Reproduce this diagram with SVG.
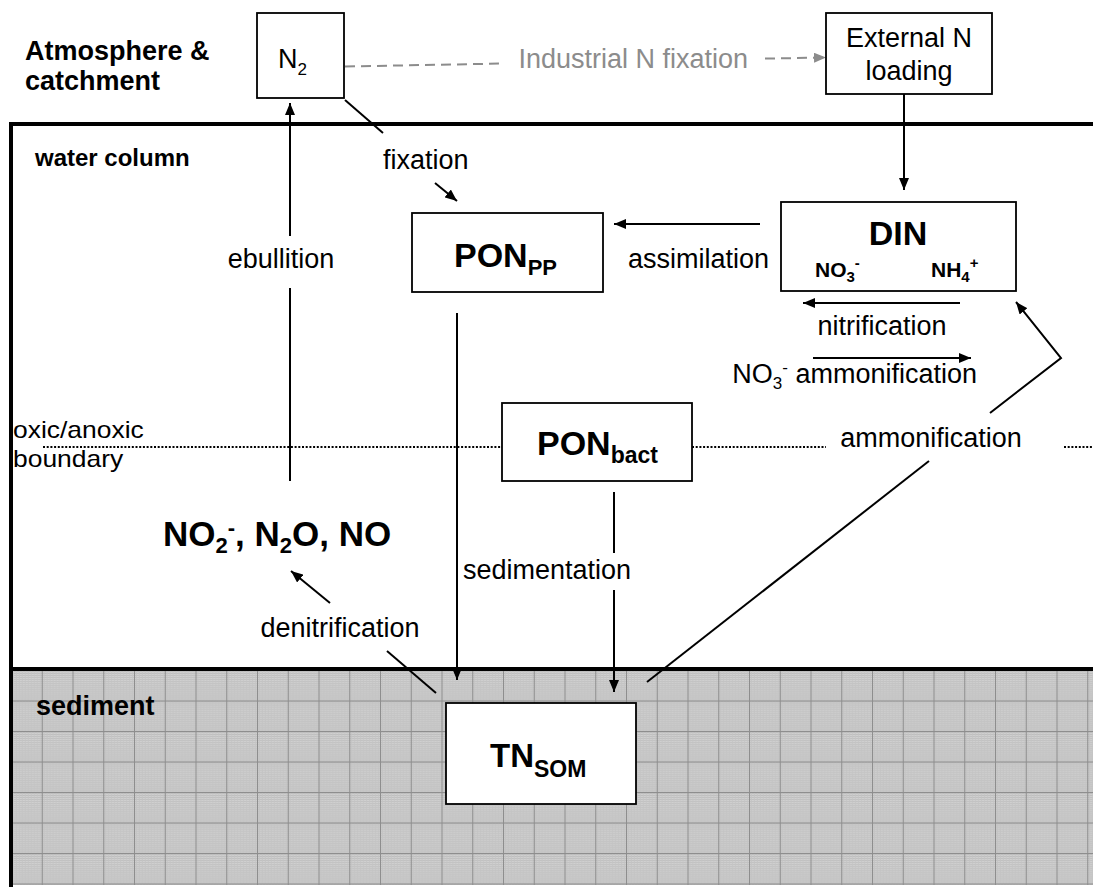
<svg xmlns="http://www.w3.org/2000/svg" width="1093" height="887" viewBox="0 0 1093 887">
<style>
text{font-family:"Liberation Sans",Arial,sans-serif;fill:#000}
.lbl{font-size:27px}
.hd{font-size:27px;font-weight:bold}
.big{font-weight:bold}
.box{fill:#fff;stroke:#000;stroke-width:1.8}
.ln{stroke:#000;stroke-width:2;fill:none}
.gr{stroke:#8c8c8c;stroke-width:2;stroke-dasharray:10 6;fill:none}
.dot{stroke:#000;stroke-width:2;stroke-dasharray:2 1.7;fill:none}
.frame{stroke:#000;stroke-width:4;fill:none}
</style>
<defs>
<marker id="ah" viewBox="0 0 12 10" refX="12" refY="5" markerWidth="12" markerHeight="10" markerUnits="userSpaceOnUse" orient="auto"><path d="M0,0 L12,5 L0,10 z" fill="#000"/></marker>
<marker id="ahg" viewBox="0 0 12 10" refX="12" refY="5" markerWidth="12" markerHeight="10" markerUnits="userSpaceOnUse" orient="auto"><path d="M0,0 L12,5 L0,10 z" fill="#8c8c8c"/></marker>
<pattern id="fine" width="3" height="2" patternUnits="userSpaceOnUse">
<rect width="3" height="2" fill="#d4d4d4"/>
<rect y="1" width="3" height="1" fill="#b9b9b9"/>
<rect x="2" width="1" height="2" fill="#c4c4c4"/>
</pattern>
<pattern id="grid" x="11" y="670" width="30.75" height="30.5" patternUnits="userSpaceOnUse">
<rect width="30.75" height="30.5" fill="url(#fine)"/>
<rect width="1" height="30.5" fill="#8e8e8e"/>
<rect width="30.75" height="1" fill="#8e8e8e"/>
</pattern>
</defs>
<rect width="1093" height="887" fill="#fff"/>
<g id="sediment-layer">
<rect x="11" y="669" width="1082" height="216" fill="url(#grid)"/>
</g>
<g id="frame">
<line class="frame" x1="10" y1="124" x2="1093" y2="124"/>
<line class="frame" x1="11" y1="122" x2="11" y2="887"/>
<line class="frame" x1="11" y1="669" x2="1093" y2="669"/>
<line class="dot" x1="43" y1="447" x2="502" y2="447"/>
<line class="dot" x1="692" y1="447" x2="826" y2="447"/>
<line class="dot" x1="1064" y1="447" x2="1093" y2="447"/>
</g>
<g id="region-labels">
<text class="hd" x="25" y="60">Atmosphere &amp;</text>
<text class="hd" x="25" y="90">catchment</text>
<text class="big" x="35" y="166" font-size="24">water column</text>
<text transform="translate(13,438) scale(1.15,1)" font-size="23">oxic/anoxic</text>
<text transform="translate(13,467) scale(1.15,1)" font-size="23">boundary</text>
<text class="hd" x="36" y="715">sediment</text>
</g>
<g id="connectors">
<line class="ln" x1="904" y1="94" x2="904" y2="190" marker-end="url(#ah)"/>
<line class="gr" x1="345" y1="66.5" x2="505" y2="63.5"/>
<line class="gr" x1="765" y1="58.6" x2="826" y2="57.5" marker-end="url(#ahg)"/>
<line class="ln" x1="345" y1="100" x2="383" y2="133"/>
<line class="ln" x1="435" y1="183" x2="457" y2="201" marker-end="url(#ah)"/>
<line class="ln" x1="760" y1="224" x2="614" y2="224" marker-end="url(#ah)"/>
<line class="ln" x1="960" y1="303" x2="803" y2="303" marker-end="url(#ah)"/>
<line class="ln" x1="813" y1="358" x2="971" y2="358" marker-end="url(#ah)"/>
<line class="ln" x1="647" y1="682" x2="929" y2="461"/>
<polyline class="ln" points="990,413 1061,358 1016,302" marker-end="url(#ah)"/>
<line class="ln" x1="457" y1="313" x2="457" y2="680" marker-end="url(#ah)"/>
<line class="ln" x1="614" y1="492" x2="614" y2="553"/>
<line class="ln" x1="614" y1="590" x2="614" y2="692" marker-end="url(#ah)"/>
<line class="ln" x1="436" y1="693" x2="387" y2="651"/>
<line class="ln" x1="330" y1="603" x2="291" y2="571" marker-end="url(#ah)"/>
<line class="ln" x1="290" y1="481" x2="290" y2="288"/>
<line class="ln" x1="290" y1="236" x2="290" y2="103" marker-end="url(#ah)"/>
<text x="748" y="68" font-size="27" text-anchor="end" style="fill:#8c8c8c">Industrial N fixation</text>
<text class="lbl" x="383" y="169">fixation</text>
<text class="lbl" x="628" y="268">assimilation</text>
<text class="lbl" x="882" y="335" text-anchor="middle">nitrification</text>
<text class="lbl" x="977" y="383" text-anchor="end">NO<tspan font-size="17" dy="6">3</tspan><tspan font-size="17" dy="-16">-</tspan><tspan dy="10"> ammonification</tspan></text>
<text class="lbl" x="931" y="447" text-anchor="middle">ammonification</text>
<text class="lbl" x="547" y="579" text-anchor="middle">sedimentation</text>
<text class="lbl" x="340" y="637" text-anchor="middle">denitrification</text>
<text class="lbl" x="281" y="268" text-anchor="middle">ebullition</text>
</g>
<g id="node-N2">
<rect class="box" x="257" y="13" width="87" height="85"/>
<text x="278" y="68" font-size="27">N<tspan font-size="17" dy="7">2</tspan></text>
</g>
<g id="node-external">
<rect class="box" x="826" y="13" width="166" height="81"/>
<text class="lbl" x="909" y="47" text-anchor="middle">External N</text>
<text class="lbl" x="909" y="80" text-anchor="middle">loading</text>
</g>
<g id="node-DIN">
<rect class="box" x="781" y="202" width="235" height="89"/>
<text class="big" x="898" y="245" font-size="34" text-anchor="middle">DIN</text>
<text class="big" x="815" y="277" font-size="21">NO<tspan font-size="15" dy="5">3</tspan><tspan font-size="15" dy="-14">-</tspan></text>
<text class="big" x="931" y="277" font-size="21">NH<tspan font-size="15" dy="5">4</tspan><tspan font-size="15" dy="-14">+</tspan></text>
</g>
<g id="node-PONpp">
<rect class="box" x="412" y="213" width="191" height="79"/>
<text class="big" x="454" y="267" font-size="34">PON<tspan font-size="22" dy="8">PP</tspan></text>
</g>
<g id="node-PONbact">
<rect class="box" x="502" y="403" width="190" height="78"/>
<text class="big" x="537" y="455" font-size="34">PON<tspan font-size="23" dy="8">bact</tspan></text>
</g>
<g id="node-NOx">
<text class="big" x="163" y="546" font-size="35">NO<tspan font-size="22" dy="7">2</tspan><tspan font-size="22" dy="-18">-</tspan><tspan dy="11">, N</tspan><tspan font-size="22" dy="7">2</tspan><tspan dy="-7">O, NO</tspan></text>
</g>
<g id="node-TNSOM">
<rect class="box" x="446" y="703" width="190" height="101"/>
<text class="big" x="490" y="767" font-size="33">TN<tspan font-size="23" dy="10">SOM</tspan></text>
</g>
</svg>
